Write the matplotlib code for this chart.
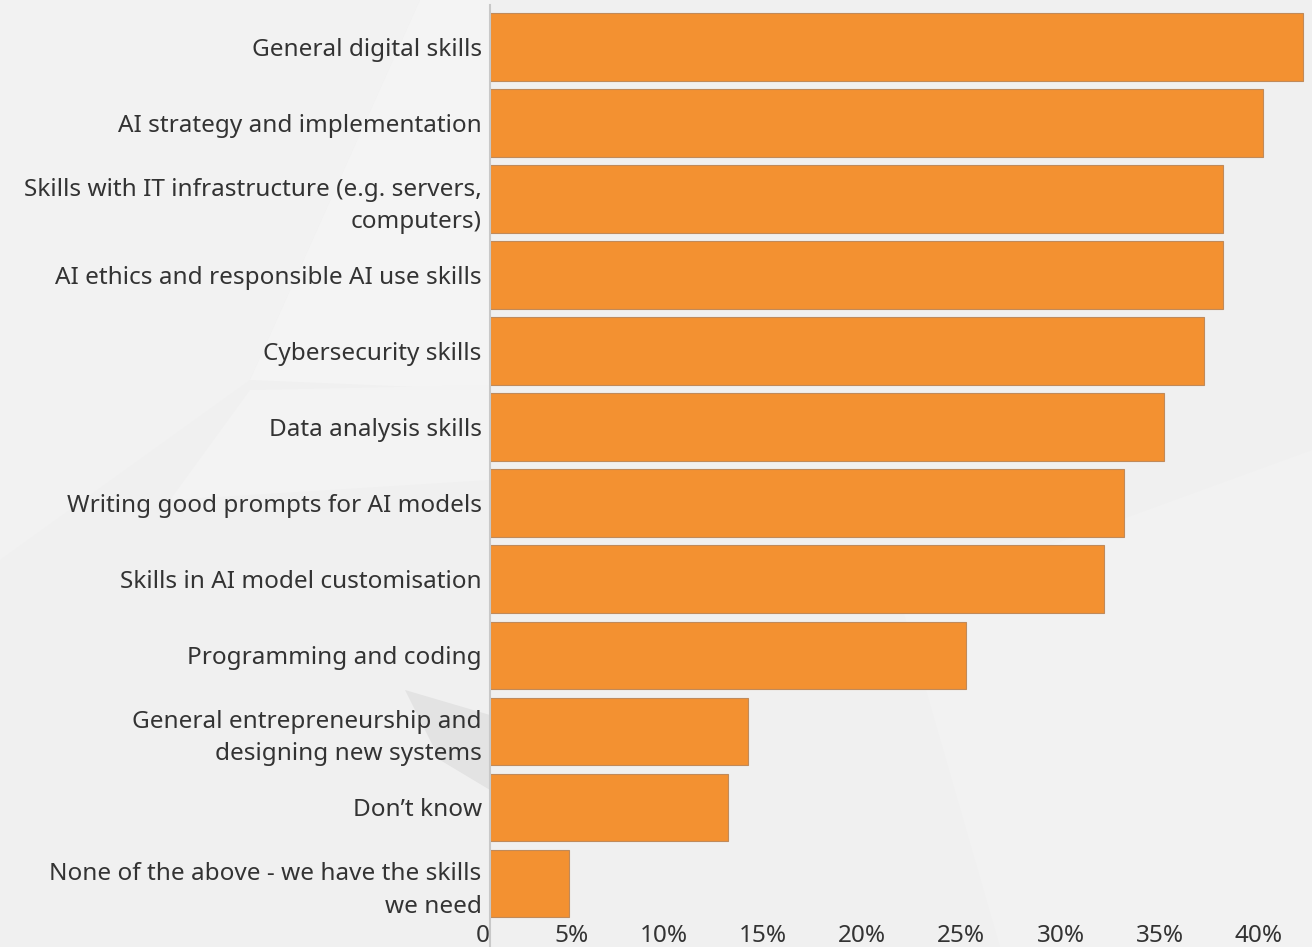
import matplotlib.pyplot as plt
from matplotlib.patches import Polygon
from matplotlib.lines import Line2D
from matplotlib.ticker import FuncFormatter

# Skills gaps reported by businesses (% of respondents)
skills = [
    "General digital skills",
    "AI strategy and implementation",
    "Skills with IT infrastructure (e.g. servers,\ncomputers)",
    "AI ethics and responsible AI use skills",
    "Cybersecurity skills",
    "Data analysis skills",
    "Writing good prompts for AI models",
    "Skills in AI model customisation",
    "Programming and coding",
    "General entrepreneurship and\ndesigning new systems",
    "Don\u2019t know",
    "None of the above - we have the skills\nwe need",
]
share = [41, 39, 37, 37, 36, 34, 32, 31, 24, 13, 12, 4]
ticks = [0, 5, 10, 15, 20, 25, 30, 35, 40]

plt.rcParams['font.family'] = ['Noto Sans', 'DejaVu Sans']

W, H = 1312, 947
fig = plt.figure(figsize=(W / 100, H / 100), dpi=100)
fig.patch.set_facecolor('#f0f0f0')

# faint geometric shapes in the backdrop
bg = fig.add_axes([0, 0, 1, 1], zorder=0)
bg.set_xlim(0, W)
bg.set_ylim(H, 0)
bg.axis('off')
shapes = [
    ([(0, 0), (420, 0), (250, 380), (0, 560)], '#f2f2f2'),
    ([(250, 380), (420, 0), (490, 0), (490, 390)], '#f4f4f4'),
    ([(170, 500), (250, 390), (490, 385), (490, 480)], '#f3f3f3'),
    ([(405, 690), (490, 715), (490, 790), (440, 760)], '#e3e3e3'),
    ([(900, 600), (1312, 450), (1312, 947), (1000, 947)], '#f2f2f2'),
]
for pts, c in shapes:
    bg.add_patch(Polygon(pts, closed=True, facecolor=c, edgecolor='none'))

x0, x1 = 490, 1312
y_top, y_bot = 9, 921.5
px_per_pct = 19.82
ax = fig.add_axes([x0 / W, 1 - y_bot / H, (x1 - x0) / W, (y_bot - y_top) / H], zorder=1)
ax.set_facecolor('none')

pos = list(range(len(skills)))
ax.barh(pos, share, height=0.89, color='#f39131', edgecolor='#c08a5a', linewidth=0.8)
ax.set_ylim(len(skills) - 0.5, -0.5)
ax.set_xlim(0, (x1 - x0) / px_per_pct)

ax.set_yticks(pos)
ax.set_yticklabels(skills, fontsize=17.5, color='#333333', linespacing=1.45)
ax.set_xticks(ticks)
ax.xaxis.set_major_formatter(FuncFormatter(lambda v, p: '0' if v == 0 else f'{v:.0f}%'))
for lbl in ax.get_xticklabels():
    lbl.set_horizontalalignment('right')
    lbl.set_fontsize(17.5)
    lbl.set_color('#333333')
ax.tick_params(axis='both', length=0)
ax.tick_params(axis='y', pad=6)
ax.tick_params(axis='x', pad=2)

for s in ax.spines.values():
    s.set_visible(False)

# vertical baseline running the full height
fig.add_artist(Line2D([x0 / W, x0 / W], [1 - 5 / H, 0], color='#c8c8c8', linewidth=1.5, zorder=2))

fig.savefig('out.png', dpi=100, facecolor=fig.get_facecolor())
